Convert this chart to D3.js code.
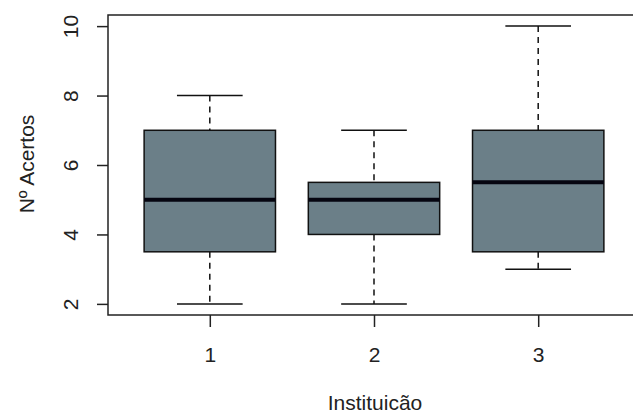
<!DOCTYPE html>
<html><head><meta charset="utf-8">
<script src="https://cdn.jsdelivr.net/npm/d3@7"></script>
<style>body{margin:0;background:#fff}svg{display:block}text{font-family:"Liberation Sans",Arial,sans-serif;fill:#222}</style>
</head><body><svg id="c" width="633" height="414"></svg>
<script>
const categories = ["1","2","3"];
const whiskerLow = [2, 2, 3];
const q1 = [3.5, 4, 3.5];
const median = [5, 5, 5.5];
const q3 = [7, 5.5, 7];
const whiskerHigh = [8, 7, 10];
const yTicks = [2, 4, 6, 8, 10];
const xLabel = "Instituicão";
const yLabel = "Nº Acertos";

(function () {
const svg = d3.select("#c");
const pLeft = 108, pTop = 15, pBottom = 315, pRight = 640;
const x = d3.scaleLinear().domain([0.38, 3.62]).range([pLeft, pRight]);
const y = d3.scaleLinear().domain([1.68, 10.32]).range([pBottom, pTop]);
const unit = x(1) - x(0);
const boxW = 0.8 * unit, capW = 0.4 * unit;
const fs = "21px";

const g = svg.append("g");
categories.forEach((c, i) => {
  const cx = x(i + 1);
  g.append("line").attr("x1", cx).attr("x2", cx).attr("y1", y(whiskerHigh[i])).attr("y2", y(q3[i]))
    .attr("stroke", "#111").attr("stroke-width", 1.5).attr("stroke-dasharray", "6,5");
  g.append("line").attr("x1", cx).attr("x2", cx).attr("y1", y(q1[i])).attr("y2", y(whiskerLow[i]))
    .attr("stroke", "#111").attr("stroke-width", 1.5).attr("stroke-dasharray", "6,5");
  [whiskerHigh[i], whiskerLow[i]].forEach(v => {
    g.append("line").attr("x1", cx - capW / 2).attr("x2", cx + capW / 2).attr("y1", y(v)).attr("y2", y(v))
      .attr("stroke", "#111").attr("stroke-width", 1.5);
  });
  g.append("rect").attr("x", cx - boxW / 2).attr("width", boxW)
    .attr("y", y(q3[i])).attr("height", y(q1[i]) - y(q3[i]))
    .attr("fill", "#6b7f88").attr("stroke", "#111").attr("stroke-width", 1.5);
  g.append("line").attr("x1", cx - boxW / 2).attr("x2", cx + boxW / 2).attr("y1", y(median[i])).attr("y2", y(median[i]))
    .attr("stroke", "#050510").attr("stroke-width", 4);
});

svg.append("rect").attr("x", pLeft).attr("y", pTop).attr("width", pRight - pLeft).attr("height", pBottom - pTop)
  .attr("fill", "none").attr("stroke", "#222").attr("stroke-width", 1.5);

const yAxis = d3.axisLeft(y).tickValues(yTicks).tickSize(11).tickPadding(0).tickFormat(d3.format("d"));
const ya = svg.append("g").attr("transform", `translate(${pLeft},0)`).call(yAxis);
ya.select(".domain").remove();
ya.selectAll(".tick line").attr("stroke", "#222").attr("stroke-width", 1.5);
ya.selectAll(".tick text").attr("x", 0).attr("dy", 0)
  .attr("transform", "translate(-38,0) rotate(-90)").attr("text-anchor", "middle")
  .attr("dominant-baseline", "central").style("font-size", fs).attr("fill", "#222");

const xAxis = d3.axisBottom(x).tickValues([1, 2, 3]).tickSize(12).tickPadding(0).tickFormat((d, i) => categories[i]);
const xa = svg.append("g").attr("transform", `translate(0,${pBottom})`).call(xAxis);
xa.select(".domain").remove();
xa.selectAll(".tick line").attr("stroke", "#222").attr("stroke-width", 1.5);
xa.selectAll(".tick text").attr("y", 47).attr("dy", 0).style("font-size", fs).attr("fill", "#222");

svg.append("text").attr("x", x(2) + 1).attr("y", 410).attr("text-anchor", "middle").style("font-size", fs).text(xLabel);
svg.append("text").attr("transform", `translate(34,${(pTop + pBottom) / 2 - 1}) rotate(-90)`).attr("text-anchor", "middle")
  .style("font-size", fs).text(yLabel);
})();
</script></body></html>
